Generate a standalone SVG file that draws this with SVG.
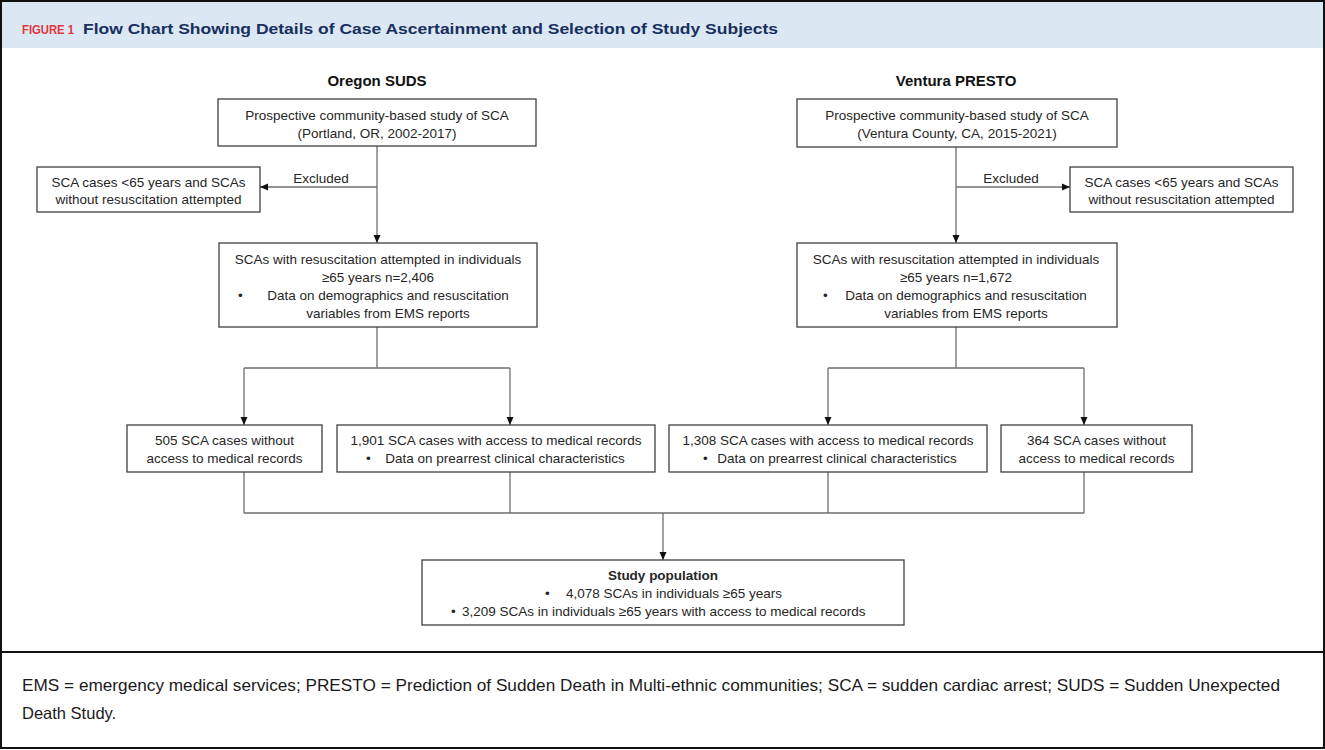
<svg xmlns="http://www.w3.org/2000/svg" width="1325" height="750" viewBox="0 0 1325 750">
<defs>
<marker id="ah" markerWidth="8" markerHeight="8" refX="8" refY="4" orient="auto" markerUnits="userSpaceOnUse">
<path d="M0,0.5 L8,4 L0,7.5 Z" fill="#111"/>
</marker>
<style>
.box{fill:#fff;stroke:#404040;stroke-width:1.3}
.t{font-family:"Liberation Sans",Arial,sans-serif;font-size:13.5px;fill:#262626}
.c{text-anchor:middle}
.b{font-weight:bold}
.hd{font-family:"Liberation Sans",Arial,sans-serif;font-size:15px;font-weight:bold;fill:#111;text-anchor:middle}
.ln{fill:none;stroke:#6f6f6f;stroke-width:1.3}
.ar{marker-end:url(#ah)}
.foot{font-family:"Liberation Sans",Arial,sans-serif;font-size:16.5px;fill:#1a1a1a}
</style>
</defs>
<rect x="0" y="0" width="1325" height="750" fill="#fff"/>
<rect x="1" y="1" width="1323" height="47" fill="#dce7f4"/>
<text x="22" y="34" font-family="Liberation Sans,Arial,sans-serif" font-size="12.5" font-weight="bold" fill="#e2363c" textLength="52" lengthAdjust="spacingAndGlyphs">FIGURE 1</text>
<text x="83" y="34" font-family="Liberation Sans,Arial,sans-serif" font-size="15.5" font-weight="bold" fill="#17305e" textLength="695" lengthAdjust="spacingAndGlyphs">Flow Chart Showing Details of Case Ascertainment and Selection of Study Subjects</text>
<rect x="1" y="1" width="1323" height="747" fill="none" stroke="#111" stroke-width="2"/>
<line x1="1" y1="652" x2="1324" y2="652" stroke="#111" stroke-width="2"/>

<text class="hd" x="377" y="86">Oregon SUDS</text>
<text class="hd" x="956" y="86">Ventura PRESTO</text>

<g id="connectors">
<path class="ln ar" d="M377,146 V243"/>
<path class="ln ar" d="M377,187 H260"/>
<path class="ln" d="M377,327 V368 M244,368 H510"/>
<path class="ln ar" d="M244,368 V425"/>
<path class="ln ar" d="M510,368 V425"/>
<path class="ln ar" d="M956,147 V243"/>
<path class="ln ar" d="M956,187 H1070"/>
<path class="ln" d="M956,327 V368 M828,368 H1084"/>
<path class="ln ar" d="M828,368 V425"/>
<path class="ln ar" d="M1084,368 V425"/>
<path class="ln" d="M244,472 V513 M510,472 V513 M828,472 V513 M1084,472 V513 M244,513 H1084"/>
<path class="ln ar" d="M663,513 V560"/>
<text class="t c" x="321" y="183">Excluded</text>
<text class="t c" x="1011" y="183">Excluded</text>
</g>

<g id="oregon-start">
<rect class="box" x="218" y="99" width="318" height="47"/>
<text class="t c" x="377" y="120">Prospective community-based study of SCA</text>
<text class="t c" x="377" y="138">(Portland, OR, 2002-2017)</text>
</g>
<g id="oregon-excluded">
<rect class="box" x="37" y="167" width="223" height="45"/>
<text class="t c" x="148.5" y="187">SCA cases &lt;65 years and SCAs</text>
<text class="t c" x="148.5" y="204">without resuscitation attempted</text>
</g>
<g id="oregon-resus">
<rect class="box" x="219" y="243" width="318" height="84"/>
<text class="t c" x="378" y="264">SCAs with resuscitation attempted in individuals</text>
<text class="t c" x="378" y="282">≥65 years n=2,406</text>
<text class="t" x="238" y="300">•</text>
<text class="t c" x="388" y="300">Data on demographics and resuscitation</text>
<text class="t c" x="388" y="318">variables from EMS reports</text>
</g>
<g id="oregon-nomed">
<rect class="box" x="127" y="425" width="195" height="47"/>
<text class="t c" x="224.5" y="445">505 SCA cases without</text>
<text class="t c" x="224.5" y="463">access to medical records</text>
</g>
<g id="oregon-med">
<rect class="box" x="337" y="425" width="318" height="47"/>
<text class="t c" x="496" y="445">1,901 SCA cases with access to medical records</text>
<text class="t" x="366" y="463">•</text>
<text class="t c" x="505" y="463">Data on prearrest clinical characteristics</text>
</g>

<g id="ventura-start">
<rect class="box" x="797" y="99" width="320" height="48"/>
<text class="t c" x="957" y="120">Prospective community-based study of SCA</text>
<text class="t c" x="957" y="138">(Ventura County, CA, 2015-2021)</text>
</g>
<g id="ventura-excluded">
<rect class="box" x="1070" y="167" width="223" height="45"/>
<text class="t c" x="1181.5" y="187">SCA cases &lt;65 years and SCAs</text>
<text class="t c" x="1181.5" y="204">without resuscitation attempted</text>
</g>
<g id="ventura-resus">
<rect class="box" x="797" y="243" width="320" height="84"/>
<text class="t c" x="956" y="264">SCAs with resuscitation attempted in individuals</text>
<text class="t c" x="956" y="282">≥65 years n=1,672</text>
<text class="t" x="823" y="300">•</text>
<text class="t c" x="966" y="300">Data on demographics and resuscitation</text>
<text class="t c" x="966" y="318">variables from EMS reports</text>
</g>
<g id="ventura-med">
<rect class="box" x="669" y="425" width="318" height="47"/>
<text class="t c" x="828" y="445">1,308 SCA cases with access to medical records</text>
<text class="t" x="703" y="463">•</text>
<text class="t c" x="837" y="463">Data on prearrest clinical characteristics</text>
</g>
<g id="ventura-nomed">
<rect class="box" x="1001" y="425" width="191" height="47"/>
<text class="t c" x="1096.5" y="445">364 SCA cases without</text>
<text class="t c" x="1096.5" y="463">access to medical records</text>
</g>

<g id="study-population">
<rect class="box" x="422" y="560" width="482" height="65"/>
<text class="t c b" x="663" y="580">Study population</text>
<text class="t" x="545" y="598">•</text>
<text class="t" x="566" y="598">4,078 SCAs in individuals ≥65 years</text>
<text class="t" x="451" y="616">•</text>
<text class="t" x="462" y="616">3,209 SCAs in individuals ≥65 years with access to medical records</text>
</g>

<text class="foot" x="22" y="691" textLength="1258" lengthAdjust="spacingAndGlyphs">EMS = emergency medical services; PRESTO = Prediction of Sudden Death in Multi-ethnic communities; SCA = sudden cardiac arrest; SUDS = Sudden Unexpected</text>
<text class="foot" x="22" y="719">Death Study.</text>
</svg>
